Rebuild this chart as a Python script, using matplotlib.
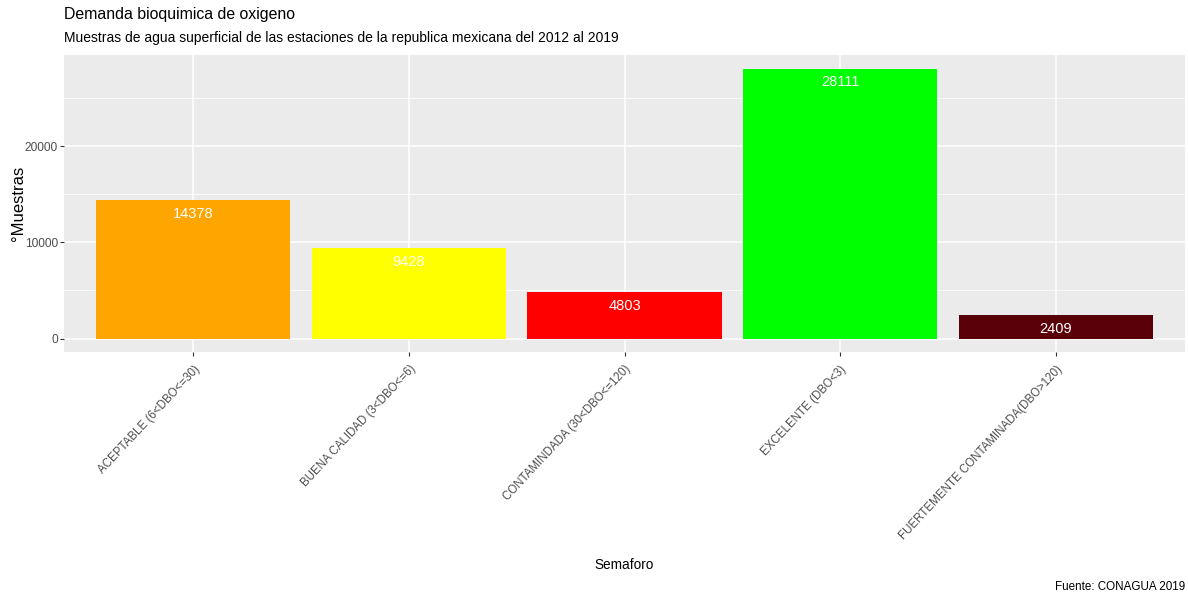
import matplotlib
matplotlib.use("Agg")
import matplotlib.pyplot as plt
from matplotlib.ticker import MultipleLocator

plt.rcParams['font.family'] = ['Liberation Sans', 'DejaVu Sans']

categories = ["ACEPTABLE (6<DBO<=30)", "BUENA CALIDAD (3<DBO<=6)",
              "CONTAMINDADA (30<DBO<=120)", "EXCELENTE (DBO<3)",
              "FUERTEMENTE CONTAMINADA(DBO>120)"]
values = [14378, 9428, 4803, 28111, 2409]
colors = ["#FFA500", "#FFFF00", "#FF0000", "#00FF00", "#5A0008"]

fig = plt.figure(figsize=(11.88, 6.0), dpi=100)
ax = fig.add_axes([64/1188, 1-352/600, (1185-64)/1188, (352-55)/600])

x = list(range(1, len(categories) + 1))
ax.bar(x, values, width=0.9, color=colors, zorder=3)
for xi, v in zip(x, values):
    ax.annotate(str(v), (xi, v), xytext=(0, -5), textcoords='offset points',
                ha='center', va='top', color='white', fontsize=10.5, zorder=4)

ymax = max(values)
ax.set_xlim(0.4, len(categories) + 0.6)
ax.set_ylim(-0.05 * ymax, 1.05 * ymax)
ax.set_facecolor("#EBEBEB")
ax.yaxis.set_major_locator(MultipleLocator(10000))
ax.yaxis.set_minor_locator(MultipleLocator(5000))
ax.set_xticks(x)
ax.set_xticklabels(categories, rotation=47, ha='right', va='top',
                   rotation_mode='anchor')
ax.grid(which='major', color='white', linewidth=1.1, zorder=0)
ax.grid(which='minor', axis='y', color='white', linewidth=0.55, zorder=0)
ax.tick_params(axis='both', which='major', length=3, color='#333333',
               labelcolor='#4D4D4D', width=0.8)
ax.tick_params(axis='x', labelsize=8.3, pad=5)
ax.tick_params(axis='y', labelsize=8.6, pad=1.5)
ax.tick_params(axis='y', which='minor', length=0)
for s in ax.spines.values():
    s.set_visible(False)

ax.set_ylabel("°Muestras", fontsize=12, va='center')
ax.yaxis.set_label_coords(-0.041, 0.5)
fig.text(624/1188, 1-565/600, "Semaforo", ha='center', va='center', fontsize=9.8)
fig.text(64/1188, 1-15/600, "Demanda bioquimica de oxigeno", ha='left', va='center', fontsize=11.4)
fig.text(64/1188, 1-38/600, "Muestras de agua superficial de las estaciones de la republica mexicana del 2012 al 2019",
         ha='left', va='center', fontsize=10)
fig.text(1185/1188, 1-587/600, "Fuente: CONAGUA 2019", ha='right', va='center', fontsize=8.4)

fig.savefig("out.png", dpi=100, facecolor='white')
